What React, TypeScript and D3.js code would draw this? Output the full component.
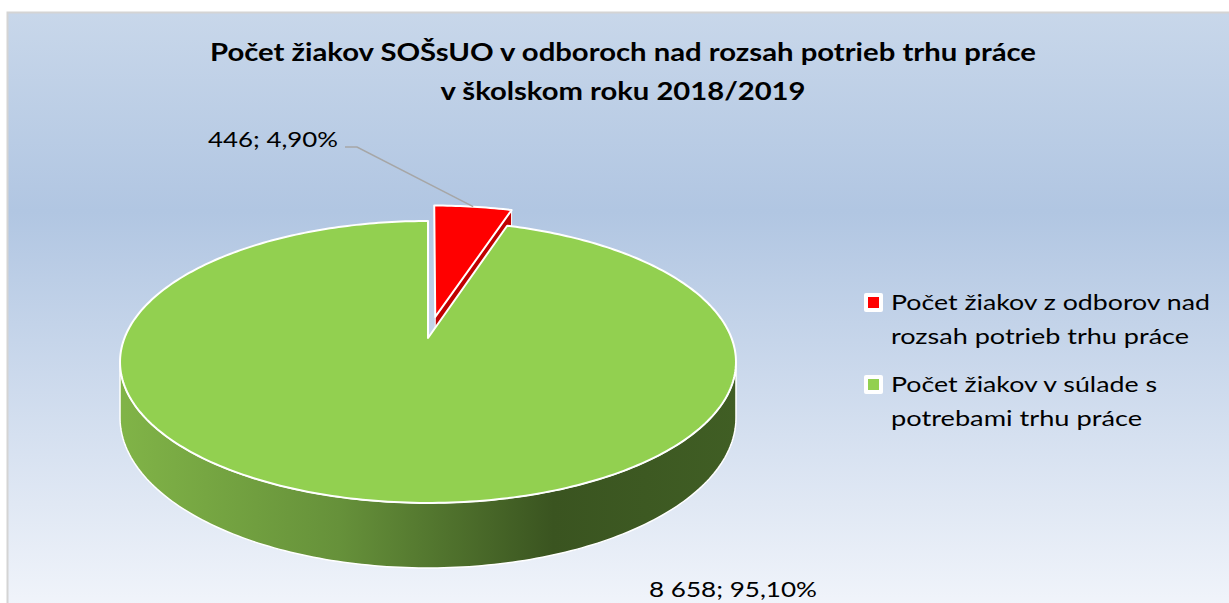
import React from "react";
import * as d3 from "d3";

// chart data
const titleLines = [
  "Počet žiakov SOŠsUO v odboroch nad rozsah potrieb trhu práce",
  "v školskom roku 2018/2019",
];
const categories = [
  "Počet žiakov z odborov nad rozsah potrieb trhu práce",
  "Počet žiakov v súlade s potrebami trhu práce",
];
const legendLines = [
  ["Počet žiakov z odborov nad", "rozsah potrieb trhu práce"],
  ["Počet žiakov v súlade s", "potrebami trhu práce"],
];
const values = [446, 8658];
const topColors = ["#ff0000", "#92d050"];
const faceColors = ["#c00000", "#4f7a2a"];
const explode = [0.16, 0];

const W = 1229;
const H = 603;

// 3d projection of the pie disk
const CX = 428;
const CY = 338;
const SX = 303.5;
const SY = 136.9;
const B = 0.17;
const DEPTH = 54;

const locale = d3.formatLocale({
  decimal: ",",
  thousands: " ",
  grouping: [3],
  currency: ["", ""],
});
const fmtNum = locale.format(",d");
const fmtPct = locale.format(".2%");

type Off = { u: number; v: number };

const proj = (a: number, r: number, dz: number, off: Off): [number, number] => {
  const u = r * Math.sin(a) + off.u;
  const v = -r * Math.cos(a) + off.v;
  const w = 1 - B * v;
  return [CX + (SX * u) / w, CY + (SY * v + DEPTH * dz) / w];
};

const sample = (a0: number, a1: number) => {
  const n = Math.max(2, Math.ceil(((a1 - a0) * 180) / Math.PI));
  return d3.range(n + 1).map((i) => a0 + ((a1 - a0) * i) / n);
};

const line = d3.line<[number, number]>();

const App = () => {
  const total = d3.sum(values);
  const arcs = d3.pie<number>().sort(null)(values);

  // silhouette of the side wall
  const wallA0 = Math.acos(-B);
  const wallA1 = 2 * Math.PI - wallA0;

  const slices = arcs.map((d, i) => {
    const mid = (d.startAngle + d.endAngle) / 2;
    const off = { u: explode[i] * Math.sin(mid), v: -explode[i] * Math.cos(mid) };
    const angles = sample(d.startAngle, d.endAngle);
    const top =
      line([proj(0, 0, 0, off), ...angles.map((a) => proj(a, 1, 0, off))]) + "Z";

    let wall: string | null = null;
    const w0 = Math.max(d.startAngle, wallA0);
    const w1 = Math.min(d.endAngle, wallA1);
    if (w1 > w0) {
      const ws = sample(w0, w1);
      wall =
        line([
          ...ws.map((a) => proj(a, 1, 0, off)),
          ...ws.slice().reverse().map((a) => proj(a, 1, 1, off)),
        ]) + "Z";
    }

    const faces: string[] = [];
    const faceAt = (a: number) =>
      line([proj(a, 0, 0, off), proj(a, 1, 0, off), proj(a, 1, 1, off), proj(a, 0, 1, off)]) + "Z";
    if (Math.sin(d.endAngle) > 0.01) faces.push(faceAt(d.endAngle));
    if (-Math.sin(d.startAngle) > 0.01) faces.push(faceAt(d.startAngle));

    return {
      i,
      depth: -Math.cos(mid),
      top,
      wall,
      faces,
      mid,
      off,
      label: `${fmtNum(d.data)}; ${fmtPct(d.data / total)}`,
    };
  });

  const order = slices.slice().sort((a, b) => a.depth - b.depth);

  const lead = proj(slices[0].mid, 1, 0, slices[0].off);

  return (
    <svg
      width={W}
      height={H}
      style={{ position: "absolute", left: 0, top: 0, display: "block" }}
      fontFamily="Lato, 'Open Sans', sans-serif"
    >
      <defs>
        <linearGradient id="bg" x1="0" y1="0" x2="0" y2="1">
          <stop offset="0" stopColor="#c8d7ea" />
          <stop offset="0.33" stopColor="#b1c6e2" />
          <stop offset="1" stopColor="#f2f5fb" />
        </linearGradient>
        <linearGradient id="wall" gradientUnits="userSpaceOnUse" x1={CX - SX} y1="0" x2={CX + SX + 6} y2="0">
          <stop offset="0" stopColor="#80b347" />
          <stop offset="0.35" stopColor="#66913a" />
          <stop offset="0.7" stopColor="#3a5420" />
          <stop offset="1" stopColor="#405e24" />
        </linearGradient>
      </defs>
      <rect width={W} height={H} fill="#ffffff" />
      <rect x={7.5} y={12.5} width={W + 20} height={H} fill="url(#bg)" stroke="#d4d4d4" strokeWidth={2} />

      {titleLines.map((t, i) => (
        <text
          key={t}
          x={623}
          y={61 + i * 39}
          textAnchor="middle"
          fontWeight="bold"
          fontSize={24}
          fill="#000"
          textLength={i === 0 ? 826 : 365}
          lengthAdjust="spacingAndGlyphs"
        >
          {t}
        </text>
      ))}

      {order.map((s) => (
        <g key={categories[s.i]}>
          {s.wall && (
            <path d={s.wall} fill="url(#wall)" stroke="#ffffff" strokeWidth={1.5} strokeLinejoin="round" />
          )}
          {s.faces.map((f, k) => (
            <path key={k} d={f} fill={faceColors[s.i]} stroke="#ffffff" strokeWidth={1} strokeLinejoin="round" />
          ))}
          <path d={s.top} fill={topColors[s.i]} stroke="#ffffff" strokeWidth={2} strokeLinejoin="round" />
        </g>
      ))}

      <polyline
        points={`345,147 357,147 ${lead[0]},${lead[1]}`}
        fill="none"
        stroke="#a6a6a6"
        strokeWidth={1.5}
      />
      <text x={208} y={147} fontSize={21} fill="#000" textLength={130} lengthAdjust="spacingAndGlyphs">
        {slices[0].label}
      </text>
      <text x={649} y={597} fontSize={21} fill="#000" textLength={168} lengthAdjust="spacingAndGlyphs">
        {slices[1].label}
      </text>

      {legendLines.map((lines, i) => {
        const y0 = 310 + i * 82;
        const widths = i === 0 ? [319, 298] : [266, 251];
        return (
          <g key={categories[i]}>
            <rect x={864} y={y0 - 17} width={19} height={19} rx={2} fill="#ffffff" />
            <rect x={868} y={y0 - 13} width={11} height={11} fill={topColors[i]} />
            {lines.map((l, k) => (
              <text
                key={l}
                x={891}
                y={y0 + k * 34}
                fontSize={22}
                fill="#000"
                textLength={widths[k]}
                lengthAdjust="spacingAndGlyphs"
              >
                {l}
              </text>
            ))}
          </g>
        );
      })}
    </svg>
  );
};

export default App;
